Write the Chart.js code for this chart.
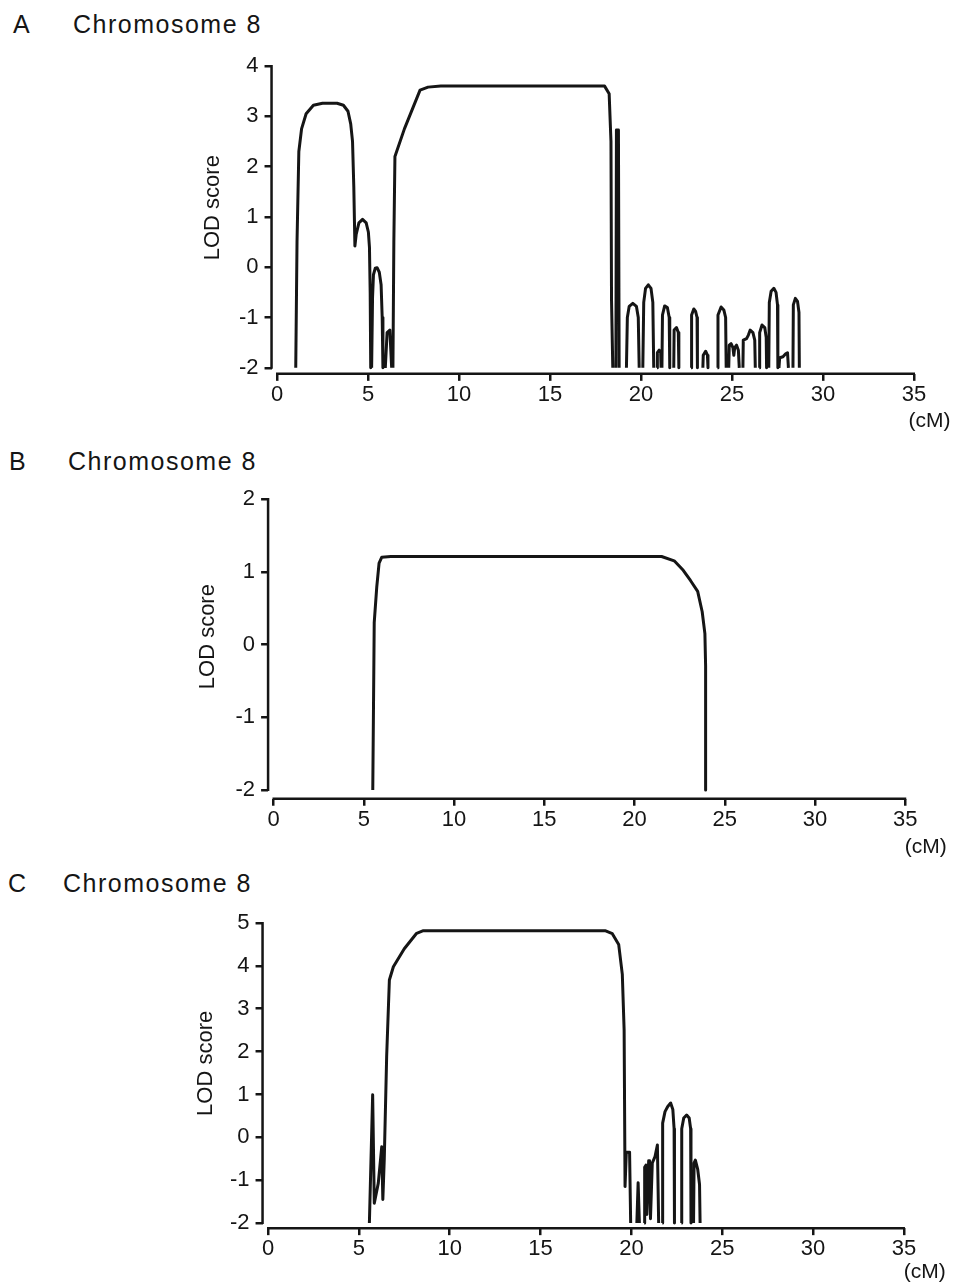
<!DOCTYPE html>
<html>
<head>
<meta charset="utf-8">
<title>Chromosome 8 LOD scores</title>
<script src="https://cdn.jsdelivr.net/npm/chart.js@4/dist/chart.umd.min.js"></script>
<style>
  body { margin: 0; background: #fff; width: 957px; height: 1285px; position: relative; overflow: hidden;
         font-family: "Liberation Sans", Arial, sans-serif; color: #151515; }
  canvas { position: absolute; left: 0; }
  .lbl { position: absolute; font-size: 25px; line-height: 25px; letter-spacing: 1.5px; white-space: nowrap; }
</style>
</head>
<body>
<div class="lbl" style="left:13px;top:12px">A</div>
<div class="lbl" style="left:73px;top:12px">Chromosome 8</div>
<div class="lbl" style="left:9px;top:449px">B</div>
<div class="lbl" style="left:68px;top:449px">Chromosome 8</div>
<div class="lbl" style="left:8px;top:871px">C</div>
<div class="lbl" style="left:63px;top:871px">Chromosome 8</div>

<canvas id="chartA" width="957" height="440"></canvas>
<canvas id="chartB" width="957" height="430"></canvas>
<canvas id="chartC" width="957" height="415"></canvas>

<script>
const ink = '#151515';

const xTicks = [0, 5, 10, 15, 20, 25, 30, 35];
const aTicks = [-2, -1, 0, 1, 2, 3, 4];
const bTicks = [-2, -1, 0, 1, 2];
const cTicks = [-2, -1, 0, 1, 2, 3, 4, 5];

// position (cM) and LOD score, null = break between separate arcs
const aPos = [
  1.03, 1.1, 1.2, 1.35, 1.6, 2.0, 2.5, 3.3, 3.65, 3.9, 4.05, 4.15, 4.22, 4.28, 4.35, 4.5, 4.7, 4.9, 5.02, 5.08, 5.12, 5.15, null,
  5.2, 5.25, 5.3, 5.4, 5.5, 5.62, 5.72, 5.78, 5.82, null,
  5.95, 6.05, 6.2, 6.3, null,
  6.37, 6.42, 6.48, 7.0, 7.86, 8.3, 9.0, 18.0, 18.25, 18.35, 18.38, 18.45, null,
  18.62, 18.65, 18.76, 18.8, null,
  19.2, 19.25, 19.35, 19.55, 19.75, 19.85, 19.9, null,
  20.1, 20.15, 20.25, 20.4, 20.55, 20.65, 20.7, null,
  20.88, 20.9, 21.0, 21.08, 21.1, null,
  21.15, 21.18, 21.3, 21.45, 21.55, 21.58, null,
  21.8, 21.82, 21.95, 22.05, 22.08, null,
  22.75, 22.78, 22.9, 23.0, 23.08, 23.1, null,
  23.4, 23.42, 23.55, 23.65, 23.68, null,
  24.2, 24.23, 24.4, 24.55, 24.65, 24.68, null,
  24.82, 24.85, 24.95, 25.05, 25.1, 25.15, 25.25, 25.35, 25.4, null,
  25.6, 25.62, 25.8, 25.9, 26.0, 26.15, 26.25, 26.28, null,
  26.5, 26.52, 26.65, 26.8, 26.88, 26.9, null,
  27.02, 27.05, 27.15, 27.3, 27.42, 27.5, 27.52, null,
  27.58, 27.62, 27.8, 27.95, 28.05, 28.1, null,
  28.35, 28.37, 28.48, 28.6, 28.68, 28.7
];
const aLod = [
  -2, 0.5, 2.3, 2.75, 3.05, 3.22, 3.26, 3.26, 3.22, 3.1, 2.85, 2.5, 1.6, 0.42, 0.65, 0.88, 0.95, 0.88, 0.7, 0.4, -0.5, -2, null,
  -2, -0.6, -0.15, -0.02, -0.01, -0.1, -0.35, -1.0, -2, null,
  -2, -1.3, -1.25, -2, null,
  -2, 0.5, 2.2, 2.75, 3.52, 3.58, 3.6, 3.6, 3.45, 2.5, -0.65, -2, null,
  -2, 2.73, 2.73, -2, null,
  -2, -1.0, -0.78, -0.72, -0.78, -1.0, -2, null,
  -2, -0.7, -0.42, -0.35, -0.42, -0.7, -2, null,
  -2, -1.7, -1.65, -1.7, -2, null,
  -2, -0.95, -0.77, -0.8, -1.0, -2, null,
  -2, -1.25, -1.2, -1.3, -2, null,
  -2, -0.95, -0.83, -0.88, -1.0, -2, null,
  -2, -1.75, -1.67, -1.75, -2, null,
  -2, -0.95, -0.79, -0.85, -1.0, -2, null,
  -2, -1.55, -1.52, -1.6, -1.75, -1.6, -1.55, -1.65, -2, null,
  -2, -1.45, -1.42, -1.35, -1.25, -1.3, -1.45, -2, null,
  -2, -1.3, -1.15, -1.2, -1.4, -2, null,
  -2, -0.7, -0.48, -0.42, -0.5, -0.75, -2, null,
  -2, -1.8, -1.78, -1.72, -1.7, -2, null,
  -2, -0.75, -0.62, -0.68, -0.9, -2
];

const bPos = [5.5, 5.58, 5.72, 5.85, 6.0, 6.5, 21.5, 22.2, 22.7, 23.1, 23.5, 23.75, 23.9, 23.94, 23.94];
const bLod = [-2, 0.3, 0.79, 1.12, 1.2, 1.21, 1.21, 1.15, 1.02, 0.88, 0.73, 0.45, 0.15, -0.3, -2];

const cPos = [
  5.58, 5.76, 5.85, 6.07, 6.26, 6.32, 6.4, 6.53, 6.68, 6.9, 7.5, 8.18, 8.55, 18.55, 18.95, 19.3, 19.5, 19.6, 19.65, 19.72, 19.9, 19.96, null,
  20.3, 20.37, 20.44, null,
  20.7, 20.73, 20.8, 20.85, 20.95, 21.0, 21.05, 21.15, 21.3, 21.43, 21.5, null,
  21.7, 21.72, 21.85, 22.0, 22.16, 22.28, 22.35, 22.37, null,
  22.75, 22.77, 22.88, 23.04, 23.18, 23.26, 23.28, null,
  23.42, 23.45, 23.52, 23.65, 23.75, 23.78
];
const cLod = [
  -2, 0.99, -1.54, -1.07, -0.22, -1.45, -0.5, 1.88, 3.67, 3.98, 4.4, 4.76, 4.82, 4.82, 4.75, 4.5, 3.8, 2.5, -1.15, -0.35, -0.35, -2, null,
  -2, -1.06, -2, null,
  -2, -0.7, -0.65, -1.8, -0.55, -0.55, -1.9, -0.6, -0.45, -0.18, -2, null,
  -2, 0.33, 0.6, 0.72, 0.8, 0.65, 0.2, -2, null,
  -2, 0.2, 0.45, 0.52, 0.45, 0.2, -2, null,
  -2, -0.6, -0.53, -0.75, -1.1, -2
];

// axis lines stop at the first/last tick, like the original figure
const offsetAxes = {
  id: 'offsetAxes',
  afterDraw(chart) {
    const { ctx, chartArea, scales: { x, y } } = chart;
    ctx.save();
    ctx.strokeStyle = ink;
    ctx.lineWidth = 2.5;
    ctx.beginPath();
    ctx.moveTo(chartArea.left, y.getPixelForValue(y.ticks[0].value) + 1);
    ctx.lineTo(chartArea.left, y.getPixelForValue(y.ticks[y.ticks.length - 1].value) - 1);
    ctx.moveTo(x.getPixelForValue(x.ticks[0].value) - 1, chartArea.bottom);
    ctx.lineTo(x.getPixelForValue(x.ticks[x.ticks.length - 1].value) + 1, chartArea.bottom);
    ctx.stroke();
    ctx.restore();
  }
};

function drawPanel(id, pos, lod, yTicks, g) {
  const xMin = -0.3, yMin = -2.12;
  const xMax = g.xMax;
  const yMax = yTicks[yTicks.length - 1];
  const left = g.x0 + xMin * g.xUnit;
  const right = g.x0 + xMax * g.xUnit;
  const top = g.yTopPx - g.top;
  const bottom = top + (yMax - yMin) * g.yUnit;
  const padLeft = g.titleX - 13.2;
  const canvas = document.getElementById(id);
  canvas.style.top = g.top + 'px';

  const family = '"Liberation Sans", Arial, sans-serif';
  const tickFont = { family, size: 22 };

  new Chart(canvas, {
    type: 'line',
    data: {
      datasets: [{
        data: pos.map((x, i) => ({ x, y: lod[i] })),
        borderColor: ink,
        borderWidth: 3,
        pointRadius: 0,
        tension: 0,
        spanGaps: false,
        borderJoinStyle: 'round'
      }]
    },
    options: {
      responsive: false,
      animation: false,
      devicePixelRatio: 1,
      layout: { padding: { left: padLeft, top: top, right: 957 - right, bottom: 0 } },
      plugins: { legend: { display: false }, tooltip: { enabled: false } },
      scales: {
        x: {
          type: 'linear',
          min: xMin,
          max: xMax,
          afterBuildTicks: s => { s.ticks = xTicks.map(v => ({ value: v })); },
          afterFit: s => { s.height = g.height - bottom; },
          border: { display: false },
          grid: { drawOnChartArea: false, color: ink, lineWidth: 2.5, tickLength: 7 },
          ticks: { color: ink, font: tickFont, padding: 1, autoSkip: false, maxRotation: 0 },
          title: {
            display: true, text: '(cM)', align: 'end', color: ink,
            font: { family, size: 21 },
            padding: { top: 0, bottom: g.height - (g.cmY - g.top) - 12.6 }
          }
        },
        y: {
          type: 'linear',
          min: yMin,
          max: yMax,
          afterBuildTicks: s => { s.ticks = yTicks.map(v => ({ value: v })); },
          afterFit: s => { s.width = left - padLeft; },
          border: { display: false },
          grid: { drawOnChartArea: false, color: ink, lineWidth: 2.5, tickLength: 7 },
          ticks: { color: ink, font: tickFont, padding: 6 },
          title: {
            // leading spaces nudge the label up a little, as in the source figure
            display: true, text: '    LOD score', color: ink,
            font: { family, size: 22 },
            padding: 0
          }
        }
      }
    },
    plugins: [offsetAxes]
  });
}

drawPanel('chartA', aPos, aLod, aTicks,
  { top: 0, height: 440, x0: 277, xUnit: 18.2, xMax: 37, yTopPx: 66, yUnit: 50.3, titleX: 213, cmY: 421 });
drawPanel('chartB', bPos, bLod, bTicks,
  { top: 440, height: 430, x0: 273.5, xUnit: 18.05, xMax: 37.3, yTopPx: 499, yUnit: 72.75, titleX: 208, cmY: 847 });
drawPanel('chartC', cPos, cLod, cTicks,
  { top: 870, height: 415, x0: 268, xUnit: 18.17, xMax: 37.3, yTopPx: 923, yUnit: 42.86, titleX: 206, cmY: 1272 });
</script>
</body>
</html>
